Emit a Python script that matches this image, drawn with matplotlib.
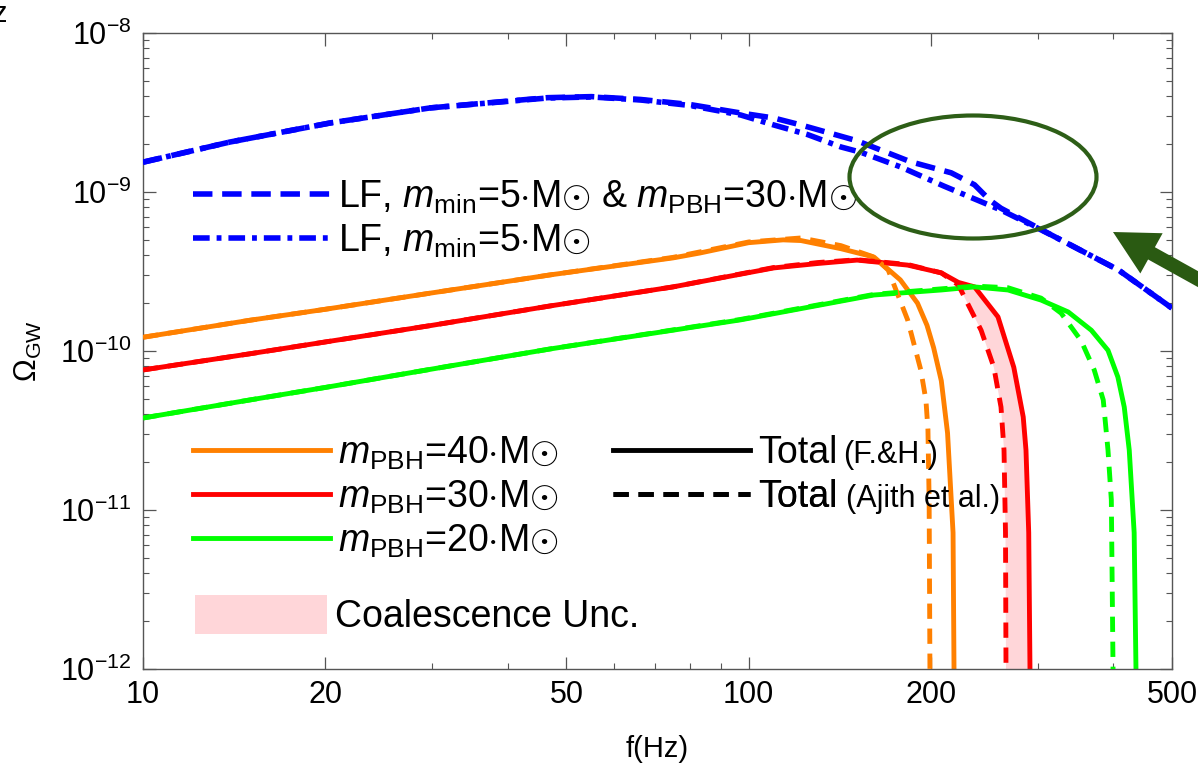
import numpy as np
import matplotlib.pyplot as plt
import matplotlib.patches as mpatches
from matplotlib.lines import Line2D
from matplotlib.ticker import NullFormatter, FixedLocator

plt.rcParams['font.family'] = ['Liberation Sans', 'DejaVu Sans']
plt.rcParams['mathtext.fontset'] = 'custom'
plt.rcParams['mathtext.rm'] = 'Liberation Sans'
plt.rcParams['mathtext.it'] = 'Liberation Sans:italic'
plt.rcParams['mathtext.bf'] = 'Liberation Sans:bold'
plt.rcParams['lines.scale_dashes'] = False

# --- data (f in Hz, Omega_GW) ---
# LF, m_min=5 & m_PBH=30 (dashed blue)
f_lf30 = [10, 13.9, 20.4, 29.8, 46.5, 55, 66.3, 80, 97, 110, 122, 151, 185, 216, 236, 250, 261, 316, 408, 500]
om_lf30 = [1.54e-9, 2.06e-9, 2.72e-9, 3.38e-9, 3.92e-9, 3.98e-9, 3.82e-9, 3.55e-9, 3.14e-9, 2.92e-9, 2.64e-9,
           2.1e-9, 1.55e-9, 1.32e-9, 1.11e-9, 8.9e-10, 7.9e-10, 5.37e-10, 3.23e-10, 1.86e-10]
# LF, m_min=5 (dash-dot blue)
f_lf = [10, 13.9, 20.4, 29.8, 46.5, 55, 66.3, 80, 97, 110, 125, 142, 153, 178, 210, 261, 316, 408, 500]
om_lf = [1.54e-9, 2.06e-9, 2.72e-9, 3.38e-9, 3.90e-9, 3.96e-9, 3.79e-9, 3.5e-9, 3.05e-9, 2.64e-9, 2.3e-9,
         1.92e-9, 1.78e-9, 1.44e-9, 1.09e-9, 7.7e-10, 5.37e-10, 3.23e-10, 1.86e-10]

# m_PBH = 40 (orange)
f_40 = [10, 15, 20, 30, 47, 75, 83, 100, 114, 122, 142, 161, 178, 190, 197, 202, 208, 213, 217.5, 218.3, 218.5]
om_40 = [1.22e-10, 1.56e-10, 1.83e-10, 2.32e-10, 3.01e-10, 3.85e-10, 4.13e-10, 4.8e-10, 5.0e-10, 4.95e-10,
         4.4e-10, 3.9e-10, 2.8e-10, 2.0e-10, 1.45e-10, 1.05e-10, 6.5e-11, 3.05e-11, 7.2e-12, 1e-12, 1e-13]
f_40_aj = [10, 15, 20, 30, 47, 75, 100, 122, 142, 161, 170, 183, 192.4, 196.2, 197.7, 198.6, 199.2, 199.4]
om_40_aj = [1.22e-10, 1.56e-10, 1.83e-10, 2.32e-10, 3.01e-10, 3.88e-10, 4.85e-10, 5.14e-10, 4.6e-10, 3.9e-10,
            3.23e-10, 1.57e-10, 7.6e-11, 4.9e-11, 3.2e-11, 1.16e-11, 1e-12, 1e-13]

# m_PBH = 30 (red)
f_30 = [10, 15, 20, 30, 47, 75, 110, 130, 151, 183, 208, 222, 236, 258, 274, 284, 287, 290, 291.4, 291.6]
om_30 = [7.6e-11, 9.6e-11, 1.14e-10, 1.45e-10, 1.92e-10, 2.53e-10, 3.33e-10, 3.55e-10, 3.73e-10, 3.47e-10,
         3.10e-10, 2.7e-10, 2.53e-10, 1.64e-10, 7.9e-11, 3.85e-11, 2.38e-11, 7.2e-12, 1e-12, 1e-13]
f_30_aj = [10, 15, 20, 30, 47, 75, 110, 130, 151, 183, 208, 222, 227, 242, 254, 261, 264, 265.5, 266, 266.2]
om_30_aj = [7.6e-11, 9.6e-11, 1.14e-10, 1.45e-10, 1.92e-10, 2.53e-10, 3.35e-10, 3.6e-10, 3.75e-10, 3.5e-10,
            3.1e-10, 2.6e-10, 2.19e-10, 1.35e-10, 7.9e-11, 4.44e-11, 2.38e-11, 7.2e-12, 1e-12, 1e-13]

# m_PBH = 20 (green)
f_20 = [10, 15, 20, 30, 47, 97, 161, 208, 236, 268, 304, 337, 368, 392, 407, 417, 425, 433, 436, 436.2]
om_20 = [3.79e-11, 4.92e-11, 5.9e-11, 7.7e-11, 1.03e-10, 1.57e-10, 2.25e-10, 2.42e-10, 2.53e-10, 2.42e-10,
         2.09e-10, 1.76e-10, 1.35e-10, 1.01e-10, 6.86e-11, 4.44e-11, 2.38e-11, 7.2e-12, 1e-12, 1e-13]
f_20_aj = [10, 15, 20, 30, 47, 97, 161, 208, 236, 268, 304, 328, 354, 372, 385, 392, 397, 399.6, 399.8]
om_20_aj = [3.79e-11, 4.92e-11, 5.9e-11, 7.7e-11, 1.03e-10, 1.58e-10, 2.27e-10, 2.46e-10, 2.56e-10, 2.5e-10,
            2.15e-10, 1.73e-10, 1.16e-10, 7.6e-11, 4.92e-11, 2.38e-11, 1.16e-11, 1e-12, 1e-13]

xticks = [10, 20, 50, 100, 200, 500]

# colours
c_blue = '#0000ff'
c_or = '#ff8000'
c_red = '#ff0000'
c_green = '#00ff00'
c_pink = '#ffd6d9'
c_dkgreen = '#2d5e17'

fig = plt.figure(figsize=(11.98, 7.64), dpi=100)
ax = fig.add_axes([143 / 1198, 1 - 669 / 764, (1172 - 143) / 1198, (669 - 33) / 764])

# coalescence uncertainty band for the 30 Msun case (between the two red curves)
k = 10
band_f = np.concatenate([np.array(f_30[k:]), np.array(f_30_aj[k:])[::-1]])
band_om = np.concatenate([np.array(om_30[k:]), np.array(om_30_aj[k:])[::-1]])
ax.fill(band_f, band_om, color=c_pink, lw=0, zorder=1)

dash_aj = (11, 7)
lw_c = 3.5
ax.plot(f_40, om_40, color=c_or, lw=lw_c, zorder=2)
ax.plot(f_40_aj, om_40_aj, color=c_or, lw=lw_c, dashes=dash_aj, zorder=3)
ax.plot(f_30, om_30, color=c_red, lw=lw_c, zorder=2)
ax.plot(f_30_aj, om_30_aj, color=c_red, lw=lw_c, dashes=dash_aj, zorder=3)
ax.plot(f_20, om_20, color=c_green, lw=lw_c, zorder=2)
ax.plot(f_20_aj, om_20_aj, color=c_green, lw=lw_c, dashes=dash_aj, zorder=3)

dash_lf30 = (14, 7)
dash_lf = (12, 5, 3.5, 5)
ax.plot(f_lf, om_lf, color=c_blue, lw=4, dashes=dash_lf, zorder=4)
ax.plot(f_lf30, om_lf30, color=c_blue, lw=4, dashes=dash_lf30, zorder=4)

ax.set_xscale('log')
ax.set_yscale('log')
ax.set_xlim(10, 500)
ax.set_ylim(1e-12, 1e-8)
ax.set_xticks(xticks)
ax.set_xticklabels([str(t) for t in xticks])
ax.xaxis.set_minor_locator(FixedLocator([30, 40, 60, 70, 80, 90, 300, 400]))
ax.xaxis.set_minor_formatter(NullFormatter())
ax.yaxis.set_minor_formatter(NullFormatter())

ax.tick_params(which='both', direction='in', top=True, right=True, color='#555555')
ax.tick_params(which='major', length=9, width=0.9, labelsize=22, pad=8)
ax.tick_params(which='minor', length=4.5, width=0.8)
for sp in ax.spines.values():
    sp.set_color('#555555')
    sp.set_linewidth(1.0)

ax.set_xlabel('f(Hz)', fontsize=21, labelpad=18)
ax.set_ylabel(r'$\Omega_{\mathrm{GW}}$', fontsize=22, labelpad=12)

# legends, one entry each so rows can be placed like the original
fs = 27
fs_px = fs * 100 / 72


def add_entry(handle, label, x, y, hlen=137, hheight=0.7):
    leg = ax.legend([handle], [label], loc='center left', bbox_to_anchor=(x, y),
                    frameon=False, fontsize=fs, handlelength=hlen / fs_px, handleheight=hheight,
                    handletextpad=0.22, borderpad=0, borderaxespad=0)
    ax.add_artist(leg)


def ax_x(px):
    return (px - 143) / 1029


def ax_y(py):
    return 1 - (py - 33) / 636


msun = r'$\cdot$M$\odot$'
add_entry(Line2D([], [], color=c_blue, lw=4, dashes=dash_lf30),
          r'LF, $m_{\mathrm{min}}$=5' + msun + r' & $m_{\mathrm{PBH}}$=30' + msun, ax_x(193), ax_y(197))
add_entry(Line2D([], [], color=c_blue, lw=4, dashes=dash_lf),
          r'LF, $m_{\mathrm{min}}$=5' + msun, ax_x(193), ax_y(241))
add_entry(Line2D([], [], color=c_or, lw=lw_c), r'$m_{\mathrm{PBH}}$=40' + msun, ax_x(193), ax_y(453))
add_entry(Line2D([], [], color=c_red, lw=lw_c), r'$m_{\mathrm{PBH}}$=30' + msun, ax_x(193), ax_y(497))
add_entry(Line2D([], [], color=c_green, lw=lw_c), r'$m_{\mathrm{PBH}}$=20' + msun, ax_x(193), ax_y(541))
add_entry(mpatches.Patch(facecolor=c_pink, edgecolor='none'), 'Coalescence Unc.',
          ax_x(195), ax_y(615), hlen=132, hheight=1.25)
add_entry(Line2D([], [], color='black', lw=lw_c), 'Total', ax_x(613), ax_y(453))
add_entry(Line2D([], [], color='black', lw=lw_c, dashes=dash_aj), 'Total', ax_x(613), ax_y(497))
ax.text(ax_x(843), ax_y(455), '(F.&H.)', fontsize=22, va='center', transform=ax.transAxes)
ax.text(ax_x(846), ax_y(499), '(Ajith et al.)', fontsize=22, va='center', transform=ax.transAxes)

# highlight ellipse and arrow
ax.add_patch(mpatches.Ellipse((ax_x(973), ax_y(177)), 247 / 1029, 123 / 636, transform=ax.transAxes,
                              fill=False, ec=c_dkgreen, lw=3, zorder=6))
fig.add_artist(mpatches.FancyArrow(12.05, 4.81, 11.13 - 12.05, 5.32 - 4.81, width=0.14, head_width=0.46,
                                   head_length=0.44, length_includes_head=True,
                                   transform=fig.dpi_scale_trans, color='#2a5a12', lw=0))

fig.text(0.0, 1 - 14 / 764, 'z', fontsize=21, ha='center', va='center')

fig.savefig('out.png', dpi=100)
